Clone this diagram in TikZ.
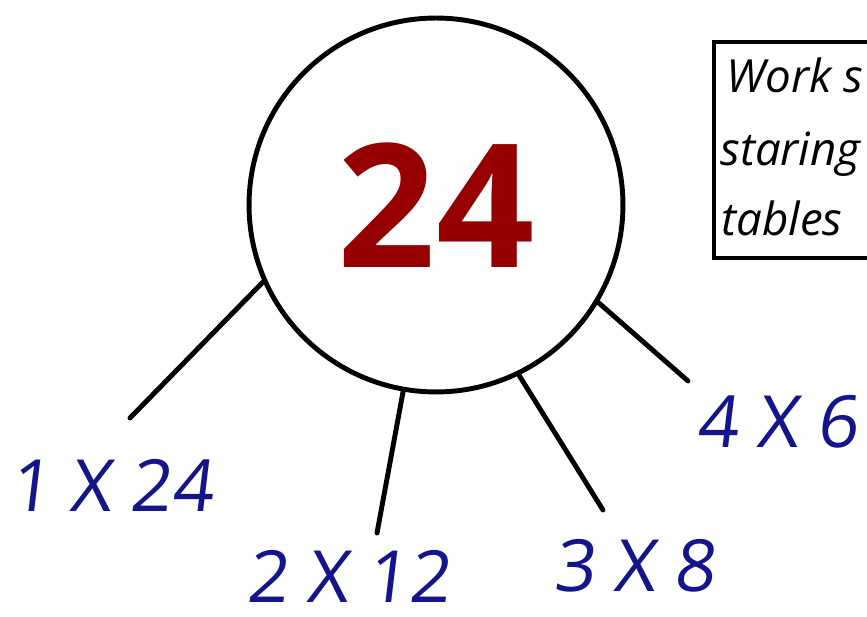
\documentclass[tikz,border=0pt]{standalone}
\usepackage{fontspec}
\setsansfont{Open Sans}
\newfontfamily\pairfont{Open Sans}[FakeSlant=0.12]
\definecolor{facblue}{RGB}{20,20,140}
\definecolor{facred}{RGB}{150,0,0}
\usetikzlibrary{positioning}

\begin{document}
\begin{tikzpicture}[x=0.02cm, y=-0.02cm,
    hub/.style={circle, draw, line width=2.8pt, minimum size=7.48cm, inner sep=0, font=\sffamily\bfseries\fontsize{98}{98}\selectfont, text=facred},
    pair/.style={inner sep=0, font=\pairfont\fontsize{41}{41}\selectfont, text=facblue},
    leg/.style={line width=2.8pt, line cap=round},
    note/.style={anchor=base west, inner sep=0, font=\sffamily\itshape\fontsize{26}{26}\selectfont}
]
    \useasboundingbox (0,0) rectangle (867,617);
    \clip (0,0) rectangle (867,617);

    \node[hub] (num) at (436,205) {24};

    \node[pair] (p1) at (111,485) {1 X 24};
    \node[pair] (p2) at (348,576) {2 X 12};
    \node[pair] (p3) at (634,566) {3 X 8};
    \node[pair] (p4) at (777,422) {4 X 6};

    \coordinate (e1) at (130,418);
    \coordinate (e2) at (377,533);
    \coordinate (e3) at (603,510);
    \coordinate (e4) at (688,381);

    \draw[leg] (num.204.5) -- (e1);
    \draw[leg] (num.260) -- (e2);
    \draw[leg] (num.296.4) -- (e3);
    \draw[leg] (num.329) -- (e4);

    % hint box, runs off the page
    \draw[line width=2.8pt] (714,42) rectangle (920,258);
    \node[note] (w1) at (726,93) {Work s};
    \node[note] (w2) at (720,166) {staring};
    \node[note] (w3) at (721,236) {tables};
\end{tikzpicture}
\end{document}
